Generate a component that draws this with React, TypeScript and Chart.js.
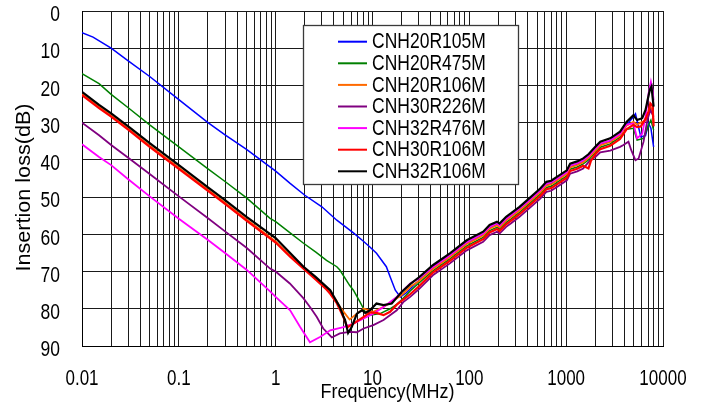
import React, { useEffect, useRef } from 'react';
import { Chart, registerables } from 'chart.js';

Chart.register(...registerables);

// ---------------- data ----------------
const seriesNames = ['CNH20R105M', 'CNH20R475M', 'CNH20R106M', 'CNH30R226M', 'CNH32R476M', 'CNH30R106M', 'CNH32R106M'];

// [frequency MHz, insertion loss dB]
const cnh20r105m: [number, number][] = [
  [0.01, 5.8], [0.013, 7.0], [0.02, 10.0], [0.03, 13.4], [0.05, 17.6], [0.1, 23.8], [0.2, 30.0], [0.3, 33.3], [0.5, 37.2],
  [1, 43.0], [1.41, 46.3], [2, 49.5], [3, 52.6], [4.28, 56.2], [6.35, 59.6], [8, 61.8], [9.4, 63.4], [11, 65.1], [13.9, 68.7],
  [15.2, 71.4], [17.2, 75.0], [19.4, 76.8], [22.4, 75.7], [30, 72.4], [42, 69.1], [63, 65.9], [94, 62.4], [139, 60.1],
  [162, 58.3], [193, 57.4], [205, 57.9], [240, 56.1], [268, 55.2], [330, 53.4], [396, 51.6], [540, 48.5], [625, 46.7],
  [700, 46.4], [810, 45.3], [1016, 43.6], [1100, 41.8], [1300, 41.2], [1500, 40.4], [1700, 39.3], [2000, 37.3], [2250, 35.9],
  [2850, 35.0], [3600, 33.2], [4200, 30.6], [4950, 28.4], [5200, 27.6], [5900, 33.8], [6600, 33.5], [7100, 30.2], [7500, 31.5],
  [8000, 36.5],
];
const cnh20r475m: [number, number][] = [
  [0.01, 16.8], [0.015, 19.5], [0.02, 22.4], [0.03, 26.0], [0.05, 30.6], [0.1, 36.5], [0.2, 42.4], [0.3, 45.8], [0.5, 50.2],
  [0.875, 55.7], [1, 56.6], [1.41, 59.6], [1.94, 62.4], [2.6, 64.8], [3.35, 67.0], [4.28, 68.7], [4.6, 69.6], [5.8, 73.7],
  [6.35, 75.0], [7.4, 78.1], [8.4, 80.8], [9.4, 81.7], [12, 81.3], [15.2, 80.0], [17.8, 78.8], [20, 77.6], [24.5, 75.2],
  [30, 73.1], [42, 69.8], [63, 66.6], [94, 63.1], [139, 60.8], [162, 59.0], [193, 58.1], [205, 58.6], [240, 56.8], [268, 55.9],
  [330, 54.1], [396, 52.3], [540, 49.2], [625, 47.4], [700, 47.1], [810, 46.0], [1016, 44.3], [1100, 42.5], [1300, 41.9],
  [1500, 41.1], [1700, 40.0], [2000, 38.0], [2250, 36.6], [2850, 35.7], [3600, 33.9], [4200, 31.8], [4950, 31.5], [5400, 34.7],
  [6300, 34.2], [7100, 30.6], [7500, 29.3], [8000, 32.0],
];
const cnh20r106m: [number, number][] = [
  [0.01, 22.3], [0.015, 25.8], [0.02, 28.1], [0.03, 31.6], [0.05, 36.2], [0.1, 42.1], [0.2, 48.0], [0.3, 51.5], [0.5, 56.0],
  [1, 61.9], [1.41, 65.7], [1.94, 68.9], [2.6, 71.9], [3.35, 74.5], [3.66, 75.7], [4.28, 78.0], [4.6, 79.5], [5.2, 81.3],
  [5.8, 82.9], [6.6, 81.7], [8.1, 79.9], [10.2, 80.8], [13, 79.5], [16.5, 77.8], [20, 76.3], [24.5, 74.1], [30, 72.6],
  [42, 69.3], [63, 66.1], [94, 62.6], [139, 60.3], [162, 58.5], [193, 57.6], [205, 58.1], [240, 56.3], [268, 55.4], [330, 53.6],
  [396, 51.8], [540, 48.7], [625, 46.9], [700, 46.6], [810, 45.5], [1016, 43.8], [1100, 42.0], [1300, 41.4], [1500, 40.6],
  [1700, 39.5], [2000, 37.5], [2250, 36.1], [2850, 35.2], [3600, 33.4], [4200, 30.8], [4950, 29.8], [5400, 30.5], [6100, 29.8],
  [6600, 29.5], [7100, 27.5], [7400, 25.8], [7800, 27.0], [8000, 30.0],
];
const cnh30r226m: [number, number][] = [
  [0.01, 30.0], [0.015, 33.4], [0.02, 36.0], [0.03, 39.4], [0.05, 43.8], [0.1, 49.8], [0.2, 55.7], [0.3, 59.2], [0.5, 63.6],
  [0.875, 69.2], [1, 70.0], [1.4, 73.2], [1.94, 77.2], [2.3, 79.8], [2.66, 82.2], [3.1, 85.3], [3.8, 87.7], [4.6, 86.6],
  [5.8, 86.2], [6.9, 86.3], [8.1, 85.3], [10.2, 84.4], [13, 83.0], [17.8, 80.4], [20.8, 78.2], [24.5, 76.8], [30, 74.8],
  [42, 71.0], [63, 67.8], [94, 64.3], [139, 62.0], [162, 60.2], [193, 59.3], [205, 59.8], [240, 58.0], [268, 57.1], [330, 55.3],
  [396, 53.5], [540, 50.4], [625, 48.6], [700, 48.3], [810, 47.2], [1016, 45.5], [1100, 43.7], [1300, 43.1], [1500, 42.3],
  [1780, 40.0], [2000, 39.2], [2250, 38.0], [2850, 37.5], [3600, 36.5], [3900, 36.0], [4400, 35.1], [4700, 37.4], [5200, 40.1],
  [5600, 39.6], [6300, 35.1], [6900, 29.3], [7400, 26.6], [8000, 28.4],
];
const cnh32r476m: [number, number][] = [
  [0.01, 35.8], [0.015, 39.2], [0.02, 41.4], [0.03, 45.2], [0.05, 49.8], [0.1, 55.8], [0.2, 61.5], [0.3, 65.0], [0.5, 69.5],
  [0.875, 75.3], [1, 76.8], [1.41, 80.4], [1.79, 84.9], [2.26, 89.0], [2.9, 87.5], [3.66, 85.8], [5.0, 84.9], [6.35, 84.0],
  [8.1, 82.6], [10.2, 81.3], [13, 79.5], [17.8, 76.8], [24.5, 73.2], [30, 71.9], [42, 68.8], [63, 65.6], [94, 62.1], [139, 59.8],
  [162, 58.0], [193, 57.0], [205, 57.6], [240, 55.8], [268, 54.9], [330, 53.0], [396, 51.3], [540, 48.2], [625, 46.4],
  [700, 46.0], [810, 45.0], [1016, 43.3], [1100, 41.5], [1300, 40.9], [1500, 40.1], [1700, 39.0], [2000, 37.0], [2250, 35.6],
  [2850, 34.8], [3600, 33.0], [4200, 30.5], [4950, 30.2], [5400, 34.2], [6100, 33.0], [6600, 28.4], [7100, 22.1], [7500, 19.0],
  [7800, 21.2], [8000, 24.0],
];
const cnh30r106m: [number, number][] = [
  [0.01, 22.6], [0.015, 26.1], [0.02, 28.4], [0.03, 31.9], [0.05, 36.5], [0.1, 42.4], [0.2, 48.3], [0.3, 51.8], [0.5, 56.3],
  [1, 62.2], [1.41, 66.0], [1.94, 69.2], [2.6, 72.2], [3.35, 74.8], [3.66, 76.0], [4.28, 78.5], [4.6, 80.2], [5.0, 82.2],
  [5.5, 85.0], [6.35, 84.0], [8.1, 82.2], [9.4, 81.0], [11, 81.1], [13, 81.7], [15.2, 80.8], [17.8, 78.9], [20, 77.9],
  [24.5, 76.1], [30, 74.0], [42, 70.3], [63, 67.1], [94, 63.6], [139, 61.3], [162, 59.5], [193, 58.6], [205, 59.1], [240, 57.3],
  [268, 56.4], [330, 54.6], [396, 52.8], [540, 49.7], [625, 47.9], [700, 47.6], [810, 46.5], [1016, 44.8], [1100, 43.0],
  [1300, 42.4], [1500, 41.6], [1700, 42.3], [1800, 40.3], [2000, 38.5], [2250, 37.1], [2850, 36.2], [3600, 34.4], [4200, 31.8],
  [4950, 30.6], [5400, 31.2], [5900, 31.0], [6600, 29.0], [7100, 27.0], [7400, 24.8], [7800, 25.5], [8000, 31.0],
];
const cnh32r106m: [number, number][] = [
  [0.01, 21.7], [0.015, 25.2], [0.02, 27.5], [0.03, 31.0], [0.05, 35.5], [0.1, 41.4], [0.2, 47.4], [0.3, 50.8], [0.5, 55.3],
  [1, 61.0], [1.41, 65.0], [1.94, 68.7], [2.6, 71.5], [3.35, 74.1], [3.66, 75.0], [4.28, 78.1], [4.6, 79.5], [5.0, 82.0],
  [5.2, 83.0], [5.6, 86.5], [6.1, 84.9], [6.9, 81.3], [7.8, 80.4], [8.4, 81.1], [9.4, 80.4], [11, 78.6], [13, 79.0],
  [15.8, 78.6], [17.8, 77.0], [20, 75.5], [24.5, 73.4], [30, 71.6], [42, 68.3], [63, 65.1], [94, 61.6], [139, 59.3],
  [162, 57.5], [193, 56.6], [205, 57.1], [240, 55.3], [268, 54.4], [330, 52.6], [396, 50.8], [540, 47.7], [625, 45.9],
  [700, 45.6], [810, 44.5], [1016, 42.8], [1100, 41.0], [1300, 40.4], [1500, 39.6], [1700, 38.5], [2000, 36.5], [2250, 35.1],
  [2850, 34.2], [3600, 32.4], [4200, 29.8], [4950, 28.0], [5400, 29.3], [6100, 28.8], [6600, 26.6], [7300, 21.2], [7600, 20.3],
  [8000, 25.7],
];

const seriesData = [cnh20r105m, cnh20r475m, cnh20r106m, cnh30r226m, cnh32r476m, cnh30r106m, cnh32r106m];

const xDecades = [0.01, 0.1, 1, 10, 100, 1000, 10000];
const xTickLabels = ['0.01', '0.1', '1', '10', '100', '1000', '10000'];
const yTickValues = [0, 10, 20, 30, 40, 50, 60, 70, 80, 90];
const xTitle = 'Frequency(MHz)';
const yTitle = 'Insertion loss(dB)';

// ---------------- styles ----------------
const seriesColors = ['#0000FF', '#008000', '#FF6A00', '#800080', '#FF00FF', '#FF0000', '#000000'];
const seriesWidths = [1.5, 1.5, 1.8, 1.8, 1.8, 2.2, 2.2];
const FONT = '"Liberation Sans", Arial, Helvetica, sans-serif';

function drawText(
  ctx: CanvasRenderingContext2D,
  text: string,
  x: number,
  y: number,
  size: number,
  sx: number,
  sy: number,
  align: CanvasTextAlign,
  rot = 0
) {
  ctx.save();
  ctx.translate(x, y);
  if (rot) ctx.rotate(rot);
  ctx.scale(sx, sy);
  ctx.font = `${size}px ${FONT}`;
  ctx.fillStyle = '#000';
  ctx.textAlign = align;
  ctx.textBaseline = 'middle';
  ctx.fillText(text, 0, 0);
  ctx.restore();
}

const customPlugin = {
  id: 'customDecor',
  afterDatasetsDraw(chart: any) {
    const ctx: CanvasRenderingContext2D = chart.ctx;
    // legend box
    const bx = 303.5, by = 25.5, bw = 215, bh = 159;
    ctx.save();
    ctx.fillStyle = '#fff';
    ctx.fillRect(bx, by, bw, bh);
    ctx.strokeStyle = '#3a3a3a';
    ctx.lineWidth = 1.3;
    ctx.strokeRect(bx, by, bw, bh);
    chart.data.datasets.forEach((ds: any, i: number) => {
      const yy = 41.7 + i * 21.6;
      ctx.strokeStyle = ds.borderColor;
      ctx.lineWidth = 2;
      ctx.beginPath();
      ctx.moveTo(338, yy);
      ctx.lineTo(367, yy);
      ctx.stroke();
      drawText(ctx, ds.label, 372, yy + 0.5, 17.5, 1, 1.27, 'left');
    });
    ctx.restore();
  },
  afterDraw(chart: any) {
    const ctx: CanvasRenderingContext2D = chart.ctx;
    const xs = chart.scales.x;
    const ys = chart.scales.y;
    xDecades.forEach((v, i) => {
      drawText(ctx, xTickLabels[i], xs.getPixelForValue(v), 379, 17, 1, 1.3, 'center');
    });
    yTickValues.forEach((v) => {
      drawText(ctx, String(v), 60, ys.getPixelForValue(v) + 4, 17.5, 1, 1.3, 'right');
    });
    drawText(ctx, xTitle, 387.5, 392.5, 18, 1, 1.09, 'center');
    drawText(ctx, yTitle, 24.5, 187.5, 20, 1.08, 1, 'center', -Math.PI / 2);
  },
};

export default function App() {
  const canvasRef = useRef<HTMLCanvasElement | null>(null);

  useEffect(() => {
    if (!canvasRef.current) return;
    const gridValues: number[] = [];
    for (let d = 0; d < xDecades.length - 1; d++) {
      for (let m = 1; m <= 9; m++) gridValues.push(xDecades[d] * m);
    }
    gridValues.push(xDecades[xDecades.length - 1]);

    const datasets = seriesData.map((arr, i) => ({
      label: seriesNames[i],
      data: arr.map(([f, v]) => ({ x: f, y: v })),
      borderColor: seriesColors[i],
      backgroundColor: seriesColors[i],
      borderWidth: seriesWidths[i],
      pointRadius: 0,
      tension: 0,
      fill: false,
      order: seriesData.length - 1 - i,
    }));

    const chart = new Chart(canvasRef.current, {
      type: 'line',
      data: { datasets },
      options: {
        animation: false,
        responsive: false,
        maintainAspectRatio: false,
        devicePixelRatio: 1,
        layout: { padding: { left: 82, right: 41, top: 11, bottom: 59 } },
        plugins: { legend: { display: false }, tooltip: { enabled: false }, title: { display: false } },
        scales: {
          x: {
            type: 'logarithmic',
            min: 0.01,
            max: 10000,
            afterBuildTicks: (scale: any) => {
              scale.ticks = gridValues.map((v) => ({ value: v }));
            },
            afterFit: (scale: any) => {
              scale.height = 0;
            },
            ticks: { display: false },
            grid: { color: '#1a1a1a', lineWidth: 1, drawTicks: false },
            border: { display: true, color: '#000', width: 1 },
          },
          y: {
            type: 'linear',
            reverse: true,
            min: 0,
            max: 90,
            ticks: { display: false, stepSize: 10 },
            afterFit: (scale: any) => {
              scale.width = 0;
            },
            grid: { color: '#1a1a1a', lineWidth: 1, drawTicks: false },
            border: { display: true, color: '#000', width: 1 },
          },
        },
      } as any,
      plugins: [customPlugin],
    });
    return () => chart.destroy();
  }, []);

  return (
    <div style={{ position: 'fixed', left: 0, top: 0, width: 704, height: 405, background: '#fff' }}>
      <canvas ref={canvasRef} width={704} height={405} style={{ display: 'block', width: 704, height: 405 }} />
    </div>
  );
}
